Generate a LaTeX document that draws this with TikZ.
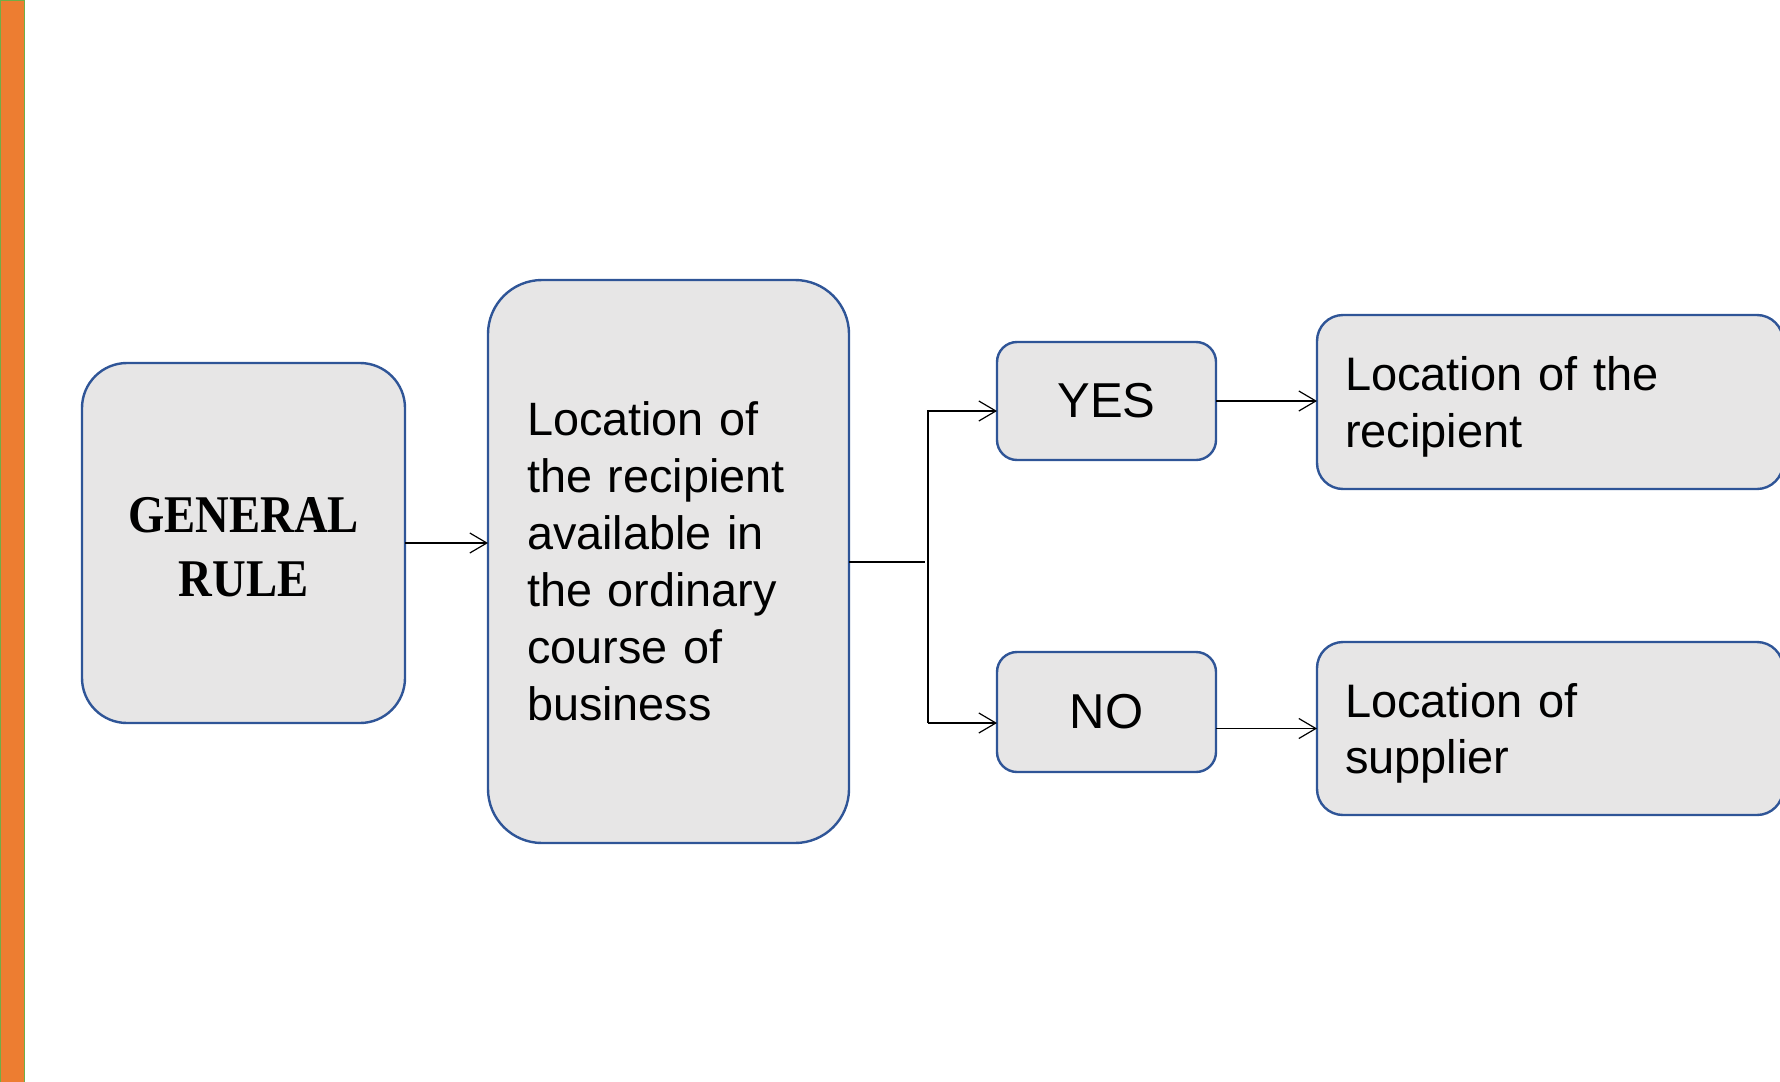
\documentclass[tikz,border=0pt]{standalone}
\usepackage{fontspec}
\setmainfont{Liberation Sans}
\newfontfamily\grfont[FakeStretch=0.88]{Liberation Serif}
\usetikzlibrary{arrows.meta}
\definecolor{boxfill}{HTML}{E7E6E6}
\definecolor{boxline}{HTML}{2F5597}
\definecolor{barfill}{HTML}{ED7D31}
\definecolor{barline}{HTML}{70AD47}
\begin{document}
\begin{tikzpicture}[x=0.5pt,y=-0.5pt,
  box/.style={draw=boxline, fill=boxfill, line width=1.2pt, inner sep=0pt, outer sep=0pt},
  conn/.style={line width=0.6pt, draw=black},
  arr/.style={conn, -{Straight Barb[length=8.5pt,width=10pt]}},
  sidetext/.style={text width=205pt, align=left, yshift=-2.5pt, font=\fontsize{23.5}{28.25}\selectfont}]
\useasboundingbox (0,0) rectangle (1780,1081);
% left bar
\fill[barfill, draw=barline, line width=0.6pt] (0.6,0.6) rectangle (24.4,1083);
% nodes
\node[box, rounded corners=22.5pt, minimum width=161.5pt, minimum height=180pt,
      label={[align=center, yshift=-2.2pt, font=\grfont\bfseries\fontsize{26.5}{31.8}\selectfont]center:GENERAL\\RULE}]
      (gr) at (243.5,543) {};
\node[box, rounded corners=27pt, minimum width=180.5pt, minimum height=281.5pt, text width=141.5pt, align=left,
      font=\fontsize{23.4}{28.5}\selectfont] (mid) at (668.5,561.5)
      {Location of\\the recipient\\available in\\the ordinary\\course of\\business};
\node[box, rounded corners=10pt, minimum width=109.5pt, minimum height=59pt,
      font=\fontsize{24.5}{28.5}\selectfont] (yes) at (1106.5,401) {YES};
\node[box, rounded corners=10pt, minimum width=109.5pt, minimum height=60pt,
      font=\fontsize{24.5}{28.5}\selectfont] (no) at (1106.5,712) {NO};
\node[box, rounded corners=13pt, minimum width=233pt, minimum height=87pt,
      label={[sidetext]center:Location of the\\recipient}] (rec) at (1550,402) {};
\node[box, rounded corners=13pt, minimum width=233pt, minimum height=86.5pt,
      label={[sidetext]center:Location of\\supplier}] (sup) at (1550,728.5) {};
% connectors
\coordinate (split) at (925,562);
\coordinate (ty) at (928,411);
\coordinate (by) at (928,723);
\draw[arr] (gr.east) -- (gr.east -| mid.west);
\draw[conn] (mid.east |- split) -- (split);
\draw[arr] (by) -- (ty) -- (ty -| yes.west);
\draw[arr] (by) -- (by -| no.west);
\draw[arr] (yes.east) -- (yes.east -| rec.west);
\draw[arr] (no.east |- sup.west) -- (sup.west);
\end{tikzpicture}
\end{document}
